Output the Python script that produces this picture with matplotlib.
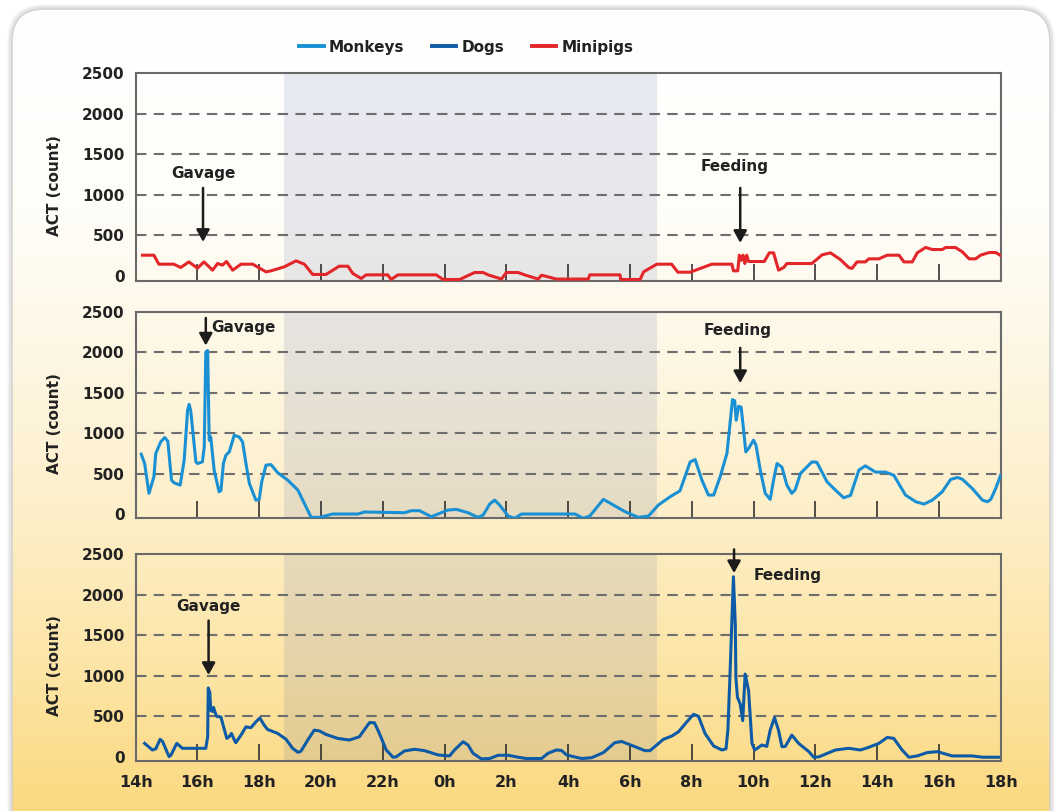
import numpy as np
import matplotlib
matplotlib.use("Agg")
import matplotlib.pyplot as plt
from matplotlib.colors import LinearSegmentedColormap
from matplotlib.patches import FancyBboxPatch
from matplotlib.lines import Line2D

# time in hours since midnight of day 1 (14h -> 42h = 18h next day)
mini_t = [14.22, 14.59, 14.75, 15.23, 15.46, 15.72, 16.0, 16.21, 16.49, 16.65, 16.81, 16.94,
          17.14, 17.41, 17.79, 18.22, 18.38, 18.81, 19.19, 19.46, 19.73, 20.16, 20.59, 20.87,
          21.03, 21.30, 21.46, 22.16, 22.27, 22.49, 23.73, 23.95, 24.49, 24.97, 25.25, 25.41,
          25.84, 26.0, 26.38, 26.59, 27.03, 27.14, 27.62, 28.65, 28.70, 29.68, 29.70, 30.33,
          30.44, 30.87, 31.35, 31.55, 31.95, 32.65, 33.30, 33.35, 33.49, 33.54, 33.60, 33.66,
          33.72, 33.78, 33.84, 34.35, 34.51, 34.65, 34.81, 34.98, 35.08, 35.89, 36.22, 36.49,
          36.81, 37.08, 37.19, 37.35, 37.62, 37.73, 38.06, 38.33, 38.71, 38.87, 39.14, 39.30,
          39.57, 39.79, 40.11, 40.22, 40.54, 40.76, 40.98, 41.19, 41.35, 41.63, 41.84, 42.0]
mini_v = [253, 253, 142, 142, 101, 170, 93, 170, 68, 150, 130, 175,
          68, 142, 142, 47, 60, 109, 183, 142, 15, 15, 117, 117,
          27, -35, 10, 10, -47, 10, 10, -47, -47, 39, 39, 10,
          -42, 39, 39, 10, -42, 6, -42, -42, 10, 10, -47, -47,
          47, 142, 142, 43, 43, 142, 142, 60, 60, 253, 190, 253,
          150, 253, 175, 175, 282, 282, 68, 101, 150, 150, 257, 282,
          200, 101, 90, 170, 170, 208, 208, 253, 253, 170, 170, 282,
          348, 323, 323, 348, 348, 294, 208, 208, 253, 286, 286, 249]

monk_t = [14.18, 14.29, 14.43, 14.59, 14.65, 14.81, 14.94, 15.04, 15.16, 15.24, 15.44, 15.57,
          15.68, 15.73, 15.78, 15.95, 16.0, 16.16, 16.22, 16.27, 16.33, 16.38, 16.43, 16.54,
          16.70, 16.76, 16.84, 16.92, 17.03, 17.19, 17.35, 17.46, 17.57, 17.68, 17.89, 18.0,
          18.08, 18.22, 18.38, 18.60, 18.92, 19.25, 19.46, 19.68, 19.95, 20.38, 21.19, 21.41,
          22.70, 22.92, 23.19, 23.57, 23.79, 24.11, 24.38, 24.76, 25.08, 25.25, 25.46, 25.62,
          25.78, 26.06, 26.27, 26.49, 28.22, 28.49, 28.70, 29.14, 29.46, 29.84, 30.27, 30.60,
          30.92, 31.30, 31.62, 31.95, 32.11, 32.33, 32.54, 32.71, 32.92, 33.14, 33.24, 33.32,
          33.39, 33.44, 33.52, 33.60, 33.68, 33.75, 33.84, 34.0, 34.08, 34.22, 34.38, 34.54,
          34.65, 34.76, 34.92, 35.08, 35.24, 35.35, 35.52, 35.89, 36.05, 36.38, 36.65, 36.92,
          37.14, 37.41, 37.62, 37.95, 38.27, 38.54, 38.92, 39.25, 39.52, 39.79, 40.11, 40.38,
          40.60, 40.76, 41.08, 41.41, 41.57, 41.68, 41.84, 42.0]
monk_v = [739, 624, 255, 460, 748, 891, 945, 900, 419, 386, 357, 665,
          1281, 1355, 1281, 644, 624, 644, 829, 2000, 2020, 912, 953, 542,
          275, 290, 624, 727, 768, 973, 952, 891, 624, 378, 172, 180,
          398, 604, 610, 509, 419, 296, 131, -41, -41, 0, 0, 25,
          16, 41, 41, -33, 0, 49, 57, 16, -41, -12, 123, 172,
          111, -25, -53, 0, 0, -53, -25, 181, 111, 29, -41, -25,
          111, 213, 287, 644, 673, 419, 234, 234, 460, 748, 1117, 1413,
          1400, 1158, 1331, 1320, 1035, 768, 810, 912, 850, 542, 255, 181,
          419, 624, 580, 357, 255, 300, 501, 644, 640, 398, 296, 201,
          230, 542, 595, 518, 518, 480, 234, 152, 123, 172, 275, 427,
          452, 430, 316, 172, 152, 180, 316, 480]

dog_t = [14.29, 14.54, 14.65, 14.79, 14.87, 15.08, 15.14, 15.33, 15.51, 16.27, 16.33, 16.35,
         16.40, 16.43, 16.49, 16.52, 16.56, 16.62, 16.76, 16.84, 16.95, 17.03, 17.10, 17.17,
         17.24, 17.41, 17.57, 17.73, 17.89, 18.02, 18.16, 18.27, 18.60, 18.87, 19.08, 19.25,
         19.35, 19.57, 19.78, 19.95, 20.16, 20.54, 20.92, 21.24, 21.57, 21.73, 21.89, 22.11,
         22.33, 22.43, 22.70, 23.03, 23.35, 23.79, 24.16, 24.32, 24.60, 24.76, 24.92, 25.19,
         25.46, 25.73, 26.06, 26.38, 26.65, 27.14, 27.35, 27.62, 27.78, 27.95, 28.43, 28.76,
         29.14, 29.51, 29.73, 30.16, 30.49, 30.65, 31.08, 31.35, 31.57, 31.84, 32.06, 32.22,
         32.43, 32.71, 32.98, 33.11, 33.17, 33.24, 33.35, 33.41, 33.43, 33.48, 33.57, 33.65,
         33.73, 33.84, 33.95, 34.04, 34.27, 34.43, 34.54, 34.68, 34.81, 34.92, 35.03, 35.24,
         35.46, 35.79, 35.95, 36.11, 36.65, 37.08, 37.46, 37.73, 38.06, 38.33, 38.54, 38.81,
         39.03, 39.30, 39.62, 39.95, 40.43, 41.08, 41.41, 41.93]
dog_v = [167, 85, 100, 216, 190, 4, 20, 167, 106, 106, 248, 850,
         793, 573, 560, 610, 560, 500, 492, 378, 228, 250, 289, 228,
         175, 269, 370, 360, 431, 480, 391, 338, 289, 216, 106, 57,
         70, 208, 330, 320, 277, 228, 208, 248, 423, 420, 289, 85,
         -4, 0, 73, 94, 77, 24, 12, 85, 187, 146, 45, -24,
         -20, 20, 20, -4, -20, -20, 45, 85, 80, 24, -20, -10,
         53, 175, 190, 126, 77, 77, 216, 256, 309, 431, 525, 500,
         289, 134, 85, 100, 329, 1021, 2220, 1631, 980, 736, 651, 447,
         1021, 818, 167, 85, 146, 130, 329, 484, 329, 126, 130, 268,
         167, 65, -4, 0, 85, 106, 85, 118, 167, 240, 228, 85,
         -4, 12, 53, 65, 12, 12, -4, -4]

series = [("Monkeys", "#1a90d4"), ("Dogs", "#0d5aa6"), ("Minipigs", "#e2262a")]
night = (18.8, 30.87)
tick_hours = list(range(14, 43, 2))
tick_labels = [f"{h % 24}h" for h in tick_hours]

# annotations: (text, text x, text y, arrow x, arrow top, arrow tip, text alignment)
notes = [
    [("Gavage", 16.18, 1262, 16.18, 1084, 417, "center"),
     ("Feeding", 33.40, 1343, 33.57, 1084, 405, "center")],
    [("Gavage", 16.45, 2306, 16.27, 2422, 2081, "left"),
     ("Feeding", 33.47, 2266, 33.57, 2053, 1617, "center")],
    [("Gavage", 16.36, 1854, 16.36, 1679, 1009, "center"),
     ("Feeding", 33.99, 2232, 33.37, 2557, 2264, "left")],
]

fig = plt.figure(figsize=(10.6, 8.11), dpi=100)

# background panel with vertical white -> yellow gradient
bg = fig.add_axes([0, 0, 1, 1])
bg.set_xlim(0, 1060)
bg.set_ylim(811, 0)
bg.axis("off")
cmap = LinearSegmentedColormap.from_list("bg", [(0, "#ffffff"), (0.25, "#fffdf8"), (0.4, "#fef8e8"),
                                                 (0.6, "#fdf0cd"), (0.8, "#fce6aa"), (1.0, "#fbd980")])
for k, a in enumerate([0.05, 0.08, 0.12]):
    sh = FancyBboxPatch((12 - 3 + k, 9 - 3 + k), 1038 + 6 - 2 * k, 840, boxstyle="round,pad=0,rounding_size=34",
                        fc="none", ec="#888888", lw=2.5, alpha=a)
    bg.add_patch(sh)
box = FancyBboxPatch((12, 9), 1038, 840, boxstyle="round,pad=0,rounding_size=32",
                     fc="none", ec="#d0d0d0", lw=1)
bg.add_patch(box)
grad = np.linspace(0, 1, 256).reshape(-1, 1)
im = bg.imshow(grad, cmap=cmap, extent=(12, 1050, 811, 9), aspect="auto")
im.set_clip_path(box)

lefts = 0.128
width = 0.816
bottoms = [0.6539, 0.3609, 0.0617]
heights = [0.2557, 0.2548, 0.2552]
ymins = [-62, -53, -50]
data = [(mini_t, mini_v, series[2][1]), (monk_t, monk_v, series[0][1]), (dog_t, dog_v, series[1][1])]

for i in range(3):
    ax = fig.add_axes([lefts, bottoms[i], width, heights[i]])
    ax.set_facecolor("none")
    t, v, c = data[i]
    ax.axvspan(night[0], night[1], color="#4d61a6", alpha=0.13, lw=0, zorder=0)
    for y in [500, 1000, 1500, 2000]:
        ax.axhline(y, color="#6e6e6e", lw=1.5, dashes=(5, 3.5), zorder=1)
    ax.plot(t, v, color=c, lw=2.2, zorder=3, solid_joinstyle="round")
    ax.set_xlim(14, 42)
    ax.set_ylim(ymins[i], 2500)
    ax.set_yticks([0, 500, 1000, 1500, 2000, 2500])
    ax.set_yticklabels(["0", "500", "1000", "1500", "2000", "2500"], fontsize=11, fontweight="bold", color="#222222")
    ax.set_xticks(tick_hours)
    ax.tick_params(axis="y", length=0, pad=8)
    ax.tick_params(axis="x", direction="in", length=12, width=1.1, color="#222222", pad=10)
    if i == 2:
        ax.set_xticklabels(tick_labels, fontsize=11.5, fontweight="bold", color="#222222")
    else:
        ax.set_xticklabels([])
    for s in ax.spines.values():
        s.set_color("#6a6a6a")
        s.set_linewidth(1.5)
    ax.set_ylabel("ACT (count)", fontsize=11, fontweight="bold", color="#222222")
    ax.yaxis.set_label_coords(-0.0855, 0.46)
    for txt, tx, ty, axx, ay0, ay1, ha in notes[i]:
        ax.text(tx, ty, txt, ha=ha, va="center", fontsize=11, fontweight="bold", color="#222222", zorder=5)
        ax.annotate("", xy=(axx, ay1), xytext=(axx, ay0), annotation_clip=False,
                    arrowprops=dict(arrowstyle="-|>,head_length=0.4,head_width=0.22", color="#1c1c1c",
                                    lw=1.8, mutation_scale=18, shrinkA=0, shrinkB=0), zorder=5)

handles = [Line2D([], [], color=c, lw=2.8) for _, c in series]
fig.legend(handles, [n for n, _ in series], loc="center", bbox_to_anchor=(0.44, 0.942), ncol=3,
           frameon=False, handlelength=1.6, handletextpad=0.35, columnspacing=1.8,
           prop={"size": 11, "weight": "bold"}, labelcolor="#222222")

fig.savefig("out.png", dpi=100)
